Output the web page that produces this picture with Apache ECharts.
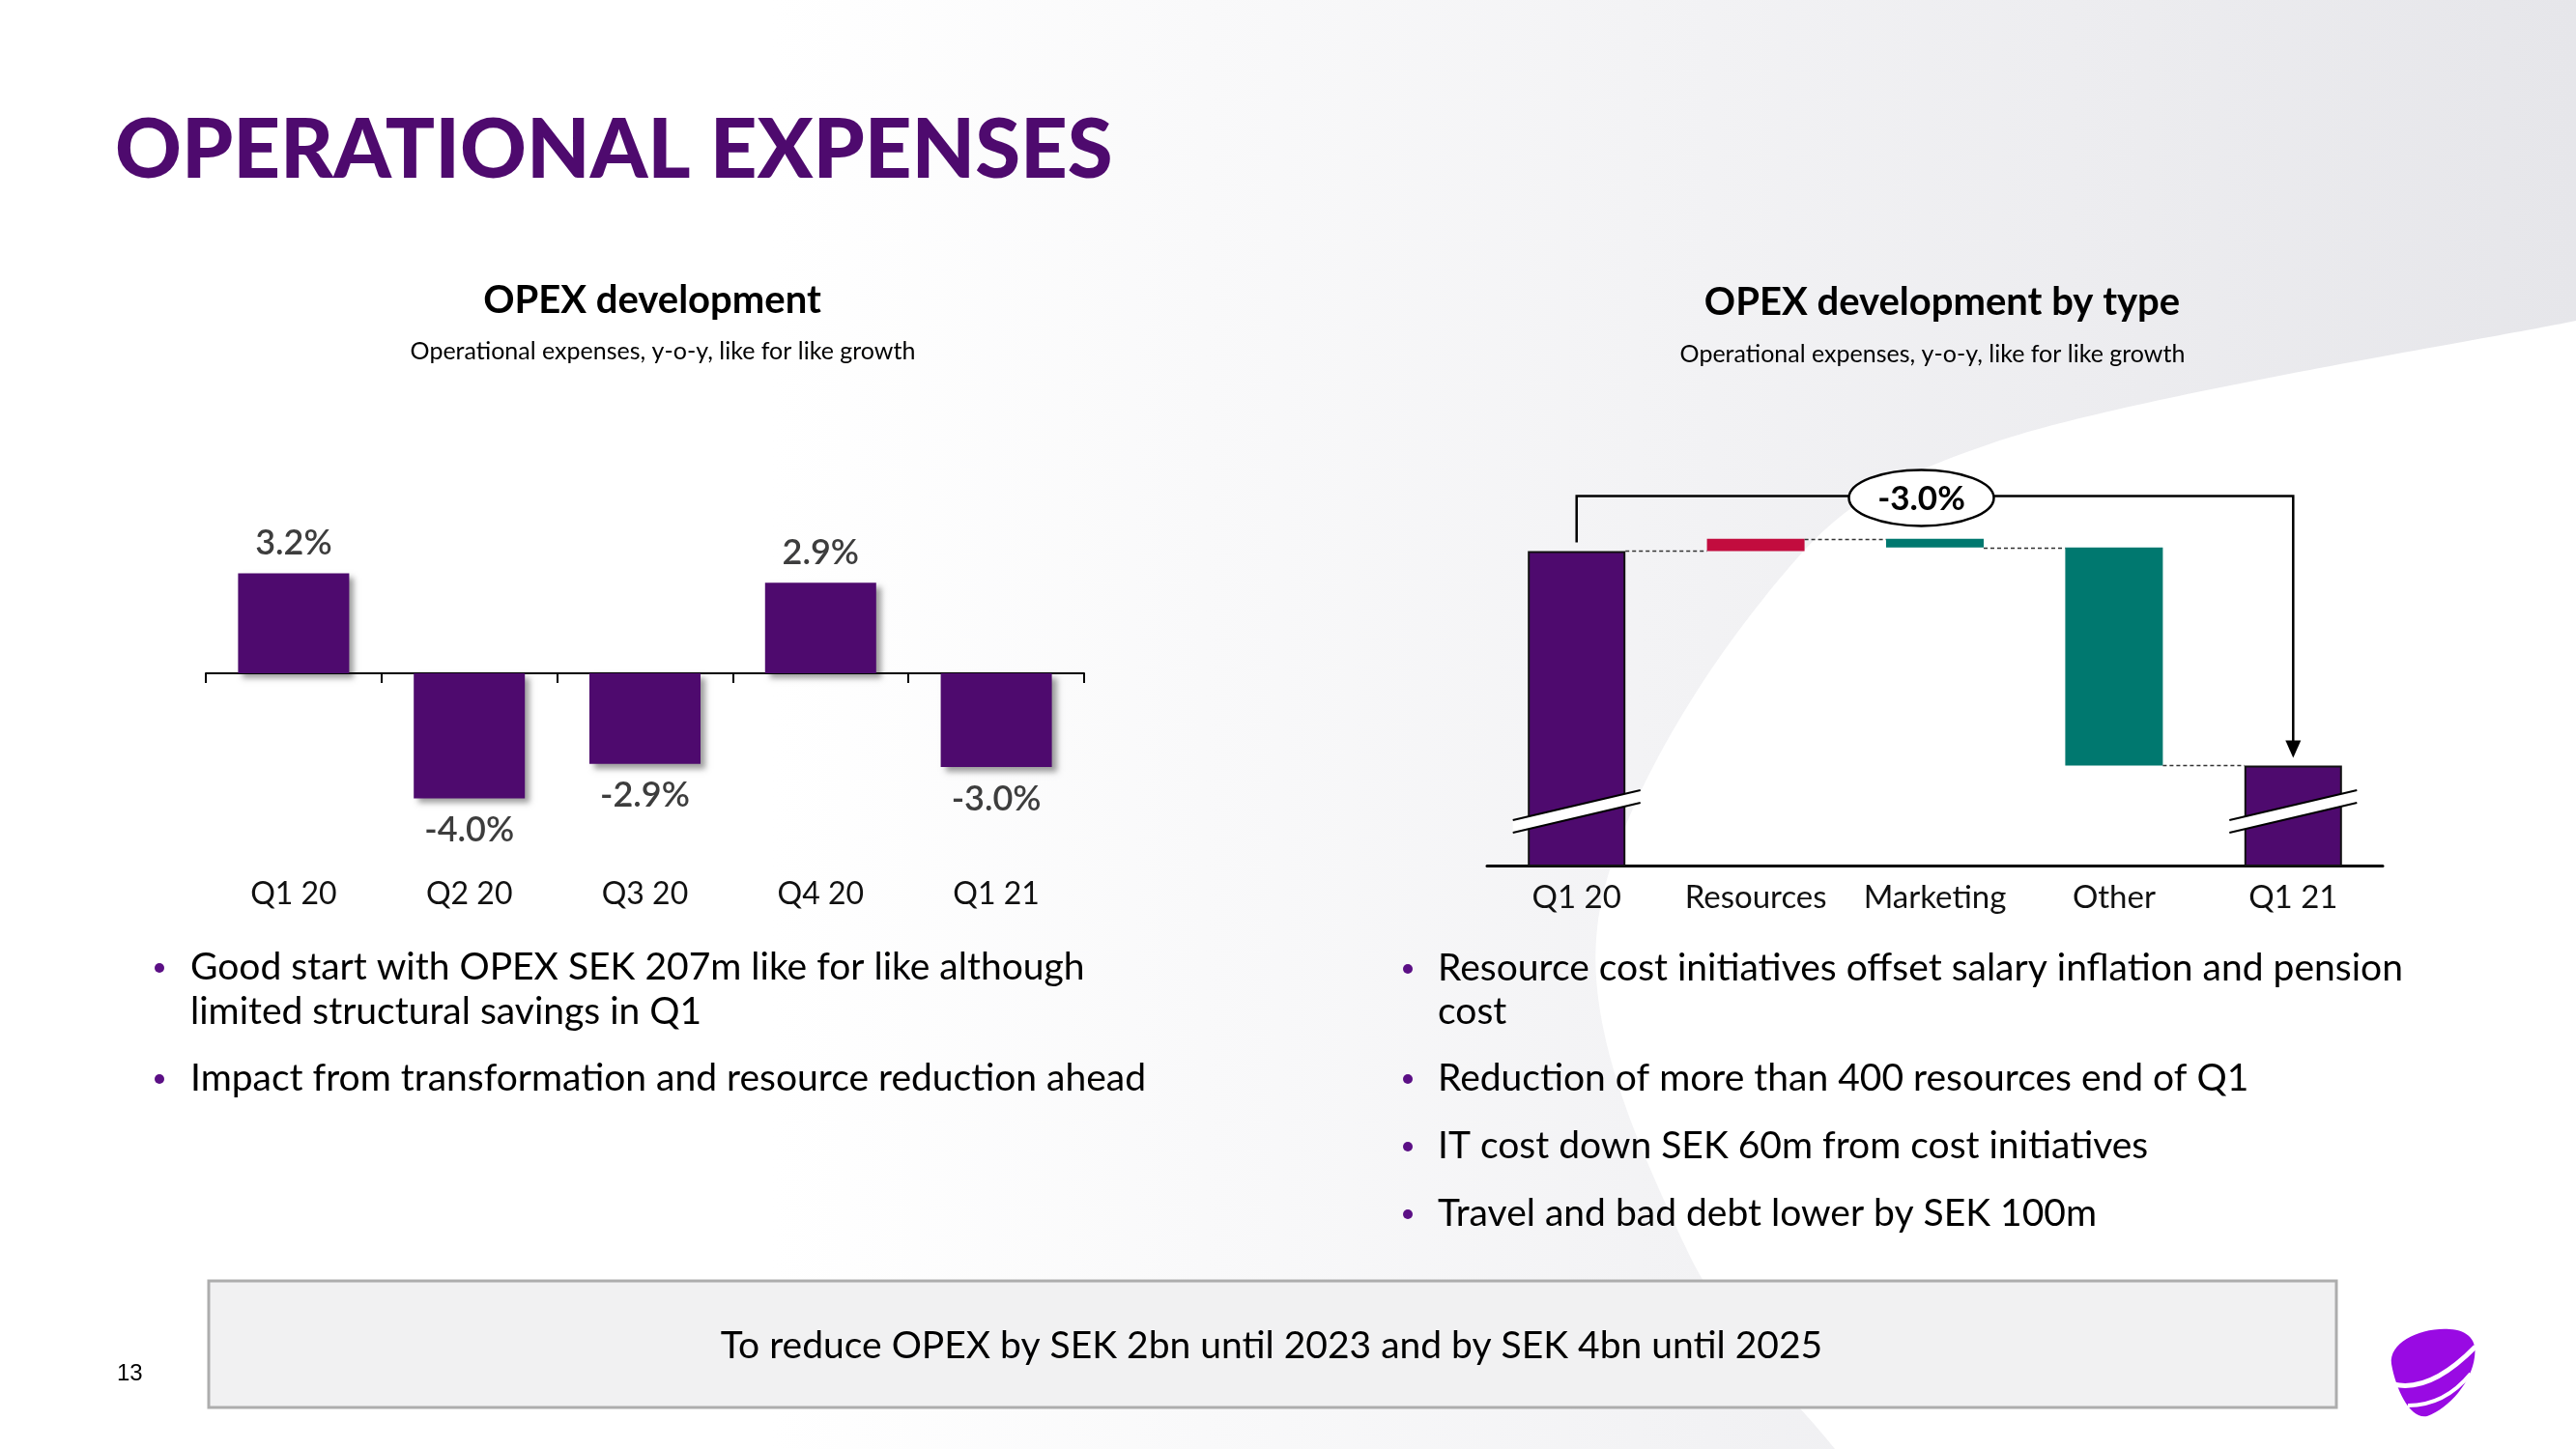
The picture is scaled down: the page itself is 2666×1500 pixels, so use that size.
<!DOCTYPE html>
<html>
<head>
<meta charset="utf-8">
<script src="https://cdn.jsdelivr.net/npm/echarts@6/dist/echarts.min.js"></script>
<style>
html,body{margin:0;padding:0;background:#fff;}
#c{width:2666px;height:1500px;}
</style>
</head>
<body>
<div id="c"></div>
<script>
// ---------------- DATA ----------------
const pageTitle = 'OPERATIONAL EXPENSES';

const leftTitle = 'OPEX development';
const leftSubtitle = 'Operational expenses, y-o-y, like for like growth';
const opexCategories = ['Q1 20', 'Q2 20', 'Q3 20', 'Q4 20', 'Q1 21'];
const opexGrowth = [3.2, -4.0, -2.9, 2.9, -3.0];

const rightTitle = 'OPEX development by type';
const rightSubtitle = 'Operational expenses, y-o-y, like for like growth';
const typeCategories = ['Q1 20', 'Resources', 'Marketing', 'Other', 'Q1 21'];
const typeStartIndex = 100;                 // Q1 20 opex as index (axis is broken)
const typeChanges = [0.17, -0.12, -3.05];   // Resources, Marketing, Other (index points)
const typeTotalLabel = '-3.0%';

const leftBullets = [
  ['Good start with OPEX SEK 207m like for like although', 'limited structural savings in Q1'],
  ['Impact from transformation and resource reduction ahead']
];
const rightBullets = [
  ['Resource cost initiatives offset salary inflation and pension', 'cost'],
  ['Reduction of more than 400 resources end of Q1'],
  ['IT cost down SEK 60m from cost initiatives'],
  ['Travel and bad debt lower by SEK 100m']
];
const boxText = 'To reduce OPEX by SEK 2bn until 2023 and by SEK 4bn until 2025';
const pageNumber = '13';

// ---------------- STYLE ----------------
const FONT = 'Lato, "Open Sans", sans-serif';
const PURPLE = '#4e0a6e';
const RED = '#c20c3e';
const TEAL = '#00786f';
const WF_MIN = 95.6, WF_MAX = 100.8;
const WF_BAR = 101;

// waterfall derived series
const levels = [typeStartIndex];
typeChanges.forEach(d => levels.push(+(levels[levels.length - 1] + d).toFixed(4)));
const endValue = levels[levels.length - 1];
const totalStyle = { color: PURPLE, borderColor: '#111', borderWidth: 2 };
const baseData = [0];
const visData = [{ value: typeStartIndex, itemStyle: totalStyle }];
typeChanges.forEach((d, i) => {
  baseData.push(Math.min(levels[i], levels[i + 1]));
  visData.push({ value: +Math.abs(d).toFixed(4), itemStyle: { color: d > 0 ? RED : TEAL } });
});
baseData.push(0);
visData.push({ value: endValue, itemStyle: totalStyle });
const connectorData = levels.map((lv, i) => [i, lv]);

// ---------------- GRAPHICS (page) ----------------
function txt(text, x, y, font, fill, align, vAlign, z) {
  return { type: 'text', z: z || 10, style: { text, x, y, font, fill,
    align: align || 'left', verticalAlign: vAlign || 'middle',
    textAlign: align || 'left', textVerticalAlign: vAlign || 'middle' } };
}
const g = [];
g.push({ type: 'rect', z: -20, shape: { x: 0, y: 0, width: 2666, height: 1500 },
  style: { fill: new echarts.graphic.LinearGradient(0, 0, 1, 0, [
    { offset: 0, color: '#ffffff' }, { offset: 0.3, color: '#ffffff' }, { offset: 1, color: '#e6e6ea' }]) } });

g.push(txt(pageTitle, 119, 157, '900 85px ' + FONT, '#4e0a6e'));
g.push(txt(leftTitle, 675, 311, 'bold 40px ' + FONT, '#000', 'center'));
g.push(txt(leftSubtitle, 686, 364, '25px ' + FONT, '#000', 'center'));
g.push(txt(rightTitle, 2010, 313, 'bold 40px ' + FONT, '#000', 'center'));
g.push(txt(rightSubtitle, 2000, 367, '25px ' + FONT, '#000', 'center'));

function bullets(list, dotX, textX, ys) {
  let k = 0;
  list.forEach(lines => {
    g.push({ type: 'circle', z: 10, shape: { cx: dotX, cy: ys[k] + 1, r: 5 }, style: { fill: '#5b0f85' } });
    lines.forEach(line => { g.push(txt(line, textX, ys[k], '39px ' + FONT, '#000')); k++; });
  });
}
bullets(leftBullets, 165, 197, [1001, 1047, 1116]);
bullets(rightBullets, 1457, 1488, [1002, 1047, 1116, 1186, 1256]);

g.push({ type: 'rect', z: 5, shape: { x: 216, y: 1326, width: 2202, height: 131 },
  style: { fill: '#f1f1f2', stroke: '#adadad', lineWidth: 3 } });
g.push(txt(boxText, 1316, 1393, '39px ' + FONT, '#000', 'center', 'middle', 11));
g.push(txt(pageNumber, 121, 1422, '24px "Liberation Sans", Arial, sans-serif', '#000'));

// decorative swoosh + logo (drawn as paths through a custom series)
const decoPaths = [
  { d: 'M 2666 332 C 2565 353 2201 411 2061 459 C 1921 507 1892 537 1824 621 C 1756 705 1666 849 1653 961 ' +
       'C 1640 1073 1704 1202 1745 1292 C 1786 1382 1873 1465 1899 1500 L 2666 1500 Z', fill: '#ffffff' },
  { d: 'M 2475 1412 C 2472 1390 2505 1374 2535 1376 C 2555 1377 2564 1388 2561 1405 ' +
       'C 2558 1430 2535 1458 2512 1466 C 2495 1470 2480 1440 2475 1412 Z', fill: '#990ae3' },
  { d: 'M 2477 1433 Q 2515 1442 2562 1394', stroke: '#ffffff', lw: 5 },
  { d: 'M 2492 1455 Q 2530 1455 2557 1422', stroke: '#ffffff', lw: 4 }
];

// ---------------- CHART ----------------
const chart = echarts.init(document.getElementById('c'), null, { renderer: 'canvas' });
const L_PX = 32.35;
const option = {
  animation: false,
  backgroundColor: 'transparent',
  textStyle: { fontFamily: FONT },
  graphic: { elements: g },
  grid: [
    { left: 213, top: 697 - 4 * L_PX, width: 909, height: 9 * L_PX, outerBoundsMode: 'none', containLabel: false },
    { left: 1539, top: 896 - (WF_MAX - WF_MIN) * 74, width: 927, height: (WF_MAX - WF_MIN) * 74, outerBoundsMode: 'none', containLabel: false }
  ],
  xAxis: [
    { gridIndex: 0, type: 'category', data: opexCategories,
      axisLine: { onZero: true, lineStyle: { color: '#000', width: 2 } },
      axisTick: { show: true, length: 10, alignWithLabel: false, lineStyle: { color: '#000', width: 2 } },
      axisLabel: { margin: 51, interval: 0, fontSize: 32, color: '#111', fontFamily: FONT } },
    { gridIndex: 1, type: 'category', data: typeCategories,
      axisLine: { onZero: false, lineStyle: { color: '#000', width: 3 } },
      axisTick: { show: false },
      axisLabel: { margin: 17, interval: 0, fontSize: 33, color: '#111', fontFamily: FONT } }
  ],
  yAxis: [
    { gridIndex: 0, type: 'value', min: -5, max: 4, show: false, splitLine: { show: false } },
    { gridIndex: 1, type: 'value', min: WF_MIN, max: WF_MAX, show: false, splitLine: { show: false } }
  ],
  series: [
    { type: 'custom', coordinateSystem: 'none', data: [0], z: 0, silent: true,
      renderItem: () => ({ type: 'group', children: decoPaths.map((p, i) => ({
        type: 'path', z2: i, shape: { pathData: p.d },
        style: p.fill ? { fill: p.fill } : { fill: null, stroke: p.stroke, lineWidth: p.lw } })) }) },
    { type: 'bar', xAxisIndex: 0, yAxisIndex: 0, barWidth: 115,
      data: opexGrowth.map(v => ({ value: v, label: { position: v < 0 ? 'bottom' : 'top', distance: v < 0 ? 15 : 13 } })),
      itemStyle: { color: PURPLE, shadowColor: 'rgba(0,0,0,0.38)', shadowBlur: 6, shadowOffsetX: 5, shadowOffsetY: 5 },
      label: { show: true, fontSize: 36, fontWeight: 600, color: '#3d3d3d', fontFamily: FONT, distance: 13,
        formatter: p => p.value.toFixed(1) + '%' },
      z: 3 },
    { type: 'bar', xAxisIndex: 1, yAxisIndex: 1, stack: 'wf', data: baseData, barWidth: WF_BAR,
      itemStyle: { color: 'transparent' }, silent: true, clip: true },
    { type: 'bar', xAxisIndex: 1, yAxisIndex: 1, stack: 'wf', data: visData, barWidth: WF_BAR, clip: true },
    { type: 'custom', xAxisIndex: 1, yAxisIndex: 1, data: connectorData.slice(0, 4), z: 4,
      renderItem: (params, api) => {
        const i = api.value(0), lv = api.value(1);
        const p1 = api.coord([i, lv]), p2 = api.coord([i + 1, lv]);
        const y = Math.round(p1[1]) + 0.5;
        return { type: 'line', shape: { x1: p1[0] + WF_BAR / 2, y1: y, x2: p2[0] - WF_BAR / 2, y2: y },
          style: { stroke: '#333', lineWidth: 1.3, lineDash: [4, 3] } };
      } },
    { type: 'custom', xAxisIndex: 1, yAxisIndex: 1, data: [[0, endValue], [4, endValue]], z: 6,
      renderItem: (params, api) => {
        const cx = api.coord([api.value(0), api.value(1)])[0];
        const cy = params.coordSys.y + params.coordSys.height - 56;
        const w = 66, s = 15.5, t = 6.5;
        return { type: 'group', children: [
          { type: 'polygon', shape: { points: [[cx - w, cy + s - t], [cx + w, cy - s - t], [cx + w, cy - s + t], [cx - w, cy + s + t]] },
            style: { fill: '#ffffff' } },
          { type: 'line', shape: { x1: cx - w, y1: cy + s - t, x2: cx + w, y2: cy - s - t }, style: { stroke: '#000', lineWidth: 2 } },
          { type: 'line', shape: { x1: cx - w, y1: cy + s + t, x2: cx + w, y2: cy - s + t }, style: { stroke: '#000', lineWidth: 2 } }
        ] };
      } },
    { type: 'custom', xAxisIndex: 1, yAxisIndex: 1, data: [[0, typeStartIndex, 4, endValue]], z: 7,
      encode: { x: 0, y: 1 },
      renderItem: (params, api) => {
        const a = api.coord([api.value(0), api.value(1)]);
        const b = api.coord([api.value(2), api.value(3)]);
        const topY = a[1] - 57;
        const midX = (a[0] + b[0]) / 2 - 14;
        const rx = 75, ry = 29, ey = topY + 2;
        const ell = 'M ' + (midX - rx) + ' ' + ey + ' A ' + rx + ' ' + ry + ' 0 1 0 ' + (midX + rx) + ' ' + ey +
                    ' A ' + rx + ' ' + ry + ' 0 1 0 ' + (midX - rx) + ' ' + ey + ' Z';
        return { type: 'group', children: [
          { type: 'polyline', shape: { points: [[a[0], a[1] - 9], [a[0], topY], [b[0], topY], [b[0], b[1] - 24]] },
            style: { stroke: '#000', lineWidth: 2.5, fill: null } },
          { type: 'polygon', shape: { points: [[b[0] - 8, b[1] - 26], [b[0] + 8, b[1] - 26], [b[0], b[1] - 8]] },
            style: { fill: '#000' } },
          { type: 'path', shape: { pathData: ell }, style: { fill: '#ffffff', stroke: '#000', lineWidth: 2.5 } },
          { type: 'text', style: { text: typeTotalLabel, x: midX, y: topY + 3, font: 'bold 35px ' + FONT, fill: '#000',
            align: 'center', verticalAlign: 'middle', textAlign: 'center', textVerticalAlign: 'middle' } }
        ] };
      } }
  ]
};
chart.setOption(option);
</script>
</body>
</html>
